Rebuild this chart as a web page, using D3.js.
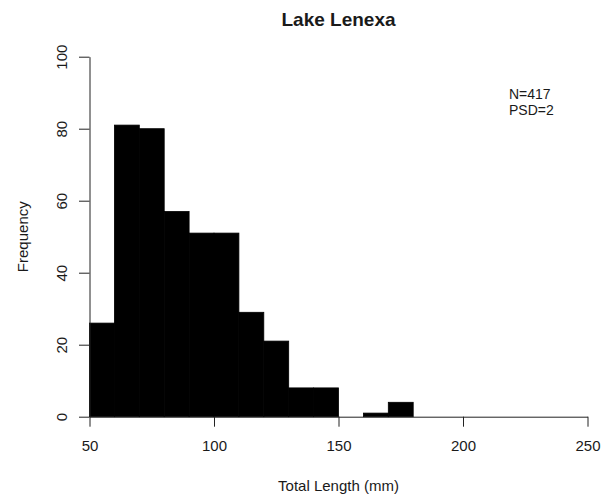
<!DOCTYPE html>
<html>
<head>
<meta charset="utf-8">
<script src="https://cdn.jsdelivr.net/npm/d3@7"></script>
<style>
  body { margin: 0; background: #fff; }
  svg text { font-family: "Liberation Sans", Arial, sans-serif; fill: #1a1a1a; }
</style>
</head>
<body>
<div id="chart"></div>
<script>
// histogram data, 10 mm bins
var binStarts = [50, 60, 70, 80, 90, 100, 110, 120, 130, 140, 150, 160, 170, 180, 190, 200, 210, 220, 230, 240];
var counts    = [26, 81, 80, 57, 51, 51, 29, 21, 8, 8, 0, 1, 4, 0, 0, 0, 0, 0, 0, 0];
var binWidth = 10;
var xTicks = [50, 100, 150, 200, 250];
var yTicks = [0, 20, 40, 60, 80, 100];
var chartTitle = "Lake Lenexa";
var notes = ["N=417", "PSD=2"];

var width = 615, height = 502;

var svg = d3.select("#chart").append("svg")
  .attr("width", width)
  .attr("height", height);

var x = d3.scaleLinear().domain([50, 250]).range([89.5, 587.5]);
var y = d3.scaleLinear().domain([0, 100]).range([416.7, 56.7]);

// bars
svg.append("g")
  .selectAll("rect")
  .data(binStarts.map(function(d, i) { return {x0: d, n: counts[i]}; }).filter(function(d) { return d.n > 0; }))
  .enter().append("rect")
  .attr("x", function(d) { return x(d.x0); })
  .attr("y", function(d) { return y(d.n); })
  .attr("width", function(d) { return x(d.x0 + binWidth) - x(d.x0); })
  .attr("height", function(d) { return y(0) - y(d.n); })
  .attr("fill", "#000")
  .attr("stroke", "#000")
  .attr("stroke-width", 0.8);

// x axis
var xAxis = svg.append("g")
  .attr("transform", "translate(0," + y(0) + ")")
  .call(d3.axisBottom(x).tickValues(xTicks).tickSize(10).tickSizeOuter(0).tickPadding(14));
xAxis.selectAll("text").style("font-size", "15px").attr("fill", "#1a1a1a");

// y axis
var yAxis = svg.append("g")
  .attr("transform", "translate(" + x(50) + ",0)")
  .call(d3.axisLeft(y).tickValues(yTicks).tickSize(10.5).tickSizeOuter(0));
yAxis.selectAll("text")
  .style("font-size", "15px")
  .attr("fill", "#1a1a1a")
  .attr("text-anchor", "middle")
  .attr("dy", 0)
  .attr("x", 0)
  .attr("y", 0)
  .attr("transform", "translate(-23,0) rotate(-90)");

svg.selectAll(".domain").attr("stroke", "#222");
svg.selectAll(".tick line").attr("stroke", "#222");

// title and axis labels
svg.append("text")
  .attr("x", (x(50) + x(250)) / 2)
  .attr("y", 26)
  .attr("text-anchor", "middle")
  .style("font-size", "19px")
  .style("font-weight", "bold")
  .text(chartTitle);

svg.append("text")
  .attr("x", (x(50) + x(250)) / 2)
  .attr("y", 491)
  .attr("text-anchor", "middle")
  .style("font-size", "15px")
  .text("Total Length (mm)");

svg.append("text")
  .attr("transform", "translate(28," + ((y(0) + y(100)) / 2) + ") rotate(-90)")
  .attr("text-anchor", "middle")
  .style("font-size", "15px")
  .text("Frequency");

// N / PSD note
svg.append("g")
  .selectAll("text")
  .data(notes)
  .enter().append("text")
  .attr("x", 509)
  .attr("y", function(d, i) { return 99 + i * 16; })
  .style("font-size", "14px")
  .text(function(d) { return d; });
</script>
</body>
</html>
